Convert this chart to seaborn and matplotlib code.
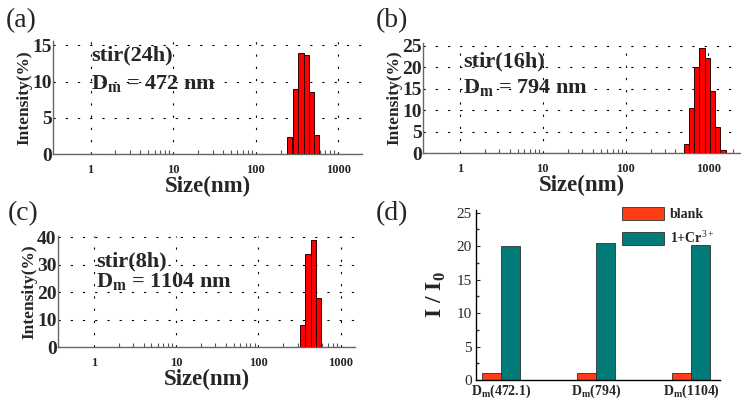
import numpy as np
import pandas as pd
import matplotlib
matplotlib.use("Agg")
import matplotlib.pyplot as plt
import seaborn as sns
from matplotlib.ticker import NullFormatter, FixedLocator

sns.set_theme(style="white")
plt.rcParams['font.family'] = ['Liberation Serif', 'DejaVu Serif']
plt.rcParams['mathtext.fontset'] = 'custom'
plt.rcParams['mathtext.rm'] = 'Liberation Serif'
plt.rcParams['mathtext.bf'] = 'Liberation Serif:bold'

# ---- data ----
# (a) stir 24h
a_centers = [256, 306, 353, 410, 475, 550]
a_heights = [2.4, 9.0, 13.9, 13.6, 8.5, 2.6]
# (b) stir 16h
b_centers = [538, 624, 720, 834, 965, 1115, 1290, 1495]
b_heights = [2.0, 10.5, 20.0, 24.5, 22.0, 14.5, 6.0, 0.8]
# (c) stir 8h
c_centers = [345, 400, 465, 540]
c_heights = [8.0, 34.0, 39.0, 18.0]
# (d)
groups = ["$\\mathbf{D_m}$(472.1)", "$\\mathbf{D_m}$(794)", "$\\mathbf{D_m}$(1104)"]
blank = [1.0, 1.0, 1.0]
cr = [20.0, 20.5, 20.1]

W, H = 741, 403
fig = plt.figure(figsize=(W/100, H/100), dpi=100)

def px_axes(l, r, t, b):
    return fig.add_axes([l/W, (H-b)/H, (r-l)/W, (b-t)/H])

def dls_hist(ax, centers, heights, xlim, ylim, yticks, title, dm, tpos):
    c = np.array(centers, float)
    lc = np.log10(c)
    w = np.median(np.diff(lc))
    left = 10**(lc - w/2)
    right = 10**(lc + w/2)
    ax.set_xscale('log')
    ax.bar(left, heights, width=right-left, align='edge', color='#ff0000',
           edgecolor='#300000', linewidth=0.7, zorder=3)
    ax.set_xlim(*xlim)
    ax.set_ylim(*ylim)
    ax.set_yticks(yticks)
    ax.set_yticklabels([str(v) for v in yticks], fontsize=14, fontweight='bold')
    ax.xaxis.set_major_locator(FixedLocator([1, 10, 100, 1000]))
    ax.set_xticklabels(['1', '10', '100', '1000'], fontsize=9, fontweight='bold')
    minors = [m * 10**d for d in range(0, 4) for m in range(2, 10)]
    minors = [v for v in minors if v < xlim[1]]
    ax.xaxis.set_minor_locator(FixedLocator(minors))
    ax.xaxis.set_minor_formatter(NullFormatter())
    ax.tick_params(axis='x', which='major', direction='in', length=4, width=0.8, pad=7, color='#555555')
    ax.tick_params(axis='x', which='minor', direction='in', length=3, width=0.8, color='#555555', bottom=True)
    ax.tick_params(axis='y', direction='in', length=0, pad=1)
    for s in ['top', 'right']:
        ax.spines[s].set_visible(False)
    for s in ['left', 'bottom']:
        ax.spines[s].set_color('#666666')
        ax.spines[s].set_linewidth(1.0)
    ax.grid(True, which='major', color='black', linestyle=(0, (2, 9)), linewidth=0.8)
    ax.set_xlabel('Size(nm)', fontsize=16.5, fontweight='bold', labelpad=0)
    ax.set_ylabel('Intensity(%)', fontsize=12.5, fontweight='bold', labelpad=0)
    (x0, y1, y2) = tpos
    fig.text(x0/W, 1 - y1/H, title, fontsize=16, fontweight='bold', va='center')
    fig.text(x0/W, 1 - y2/H, dm, fontsize=16, fontweight='bold', va='center')

axa = px_axes(53, 362, 41, 154)
dls_hist(axa, a_centers, a_heights, (0.35, 1940), (0, 15.6), [0, 5, 10, 15],
         'stir(24h)', '$\\mathbf{D_m}$ = 472 nm', (91, 55, 83))
axb = px_axes(423, 740, 43, 153)
dls_hist(axb, b_centers, b_heights, (0.36, 2400), (0, 25.6), [0, 5, 10, 15, 20, 25],
         'stir(16h)', '$\\mathbf{D_m}$ = 794 nm', (463, 61, 88))
axc = px_axes(58, 355, 236, 347)
dls_hist(axc, c_centers, c_heights, (0.364, 1500), (0, 40.5), [0, 10, 20, 30, 40],
         'stir(8h)', '$\\mathbf{D_m}$ = 1104 nm', (96, 261, 281))

# (d)
axd = px_axes(476, 720, 210, 380)
df = pd.DataFrame({
    'group': groups * 2,
    'value': blank + cr,
    'series': ['blank'] * 3 + ['1+Cr$^{3+}$'] * 3,
})
sns.barplot(data=df, x='group', y='value', hue='series', ax=axd,
            palette=['#ff3c14', '#007b78'], width=0.4, dodge=True,
            edgecolor='#303030', linewidth=0.6, saturation=1)
axd.set_xlim(-0.26, 2.3)
axd.set_ylim(0, 25.4)
axd.set_yticks([0, 5, 10, 15, 20, 25])
axd.set_yticklabels(['0', '5', '10', '15', '20', '25'], fontsize=11)
axd.set_xticks([0, 1, 2])
axd.set_xticklabels(groups, fontsize=10, fontweight='bold')
axd.set_xlabel('')
axd.set_ylabel('I / I$_\\mathbf{0}$', fontsize=17, fontweight='bold', labelpad=6)
for s in ['top', 'right']:
    axd.spines[s].set_visible(False)
for s in ['left', 'bottom']:
    axd.spines[s].set_color('black')
    axd.spines[s].set_linewidth(1.0)
axd.tick_params(axis='y', direction='in', length=3, width=0.8, left=True, pad=3)
axd.tick_params(axis='x', direction='in', length=3, width=0.8, bottom=True, pad=2)
axd.yaxis.set_minor_locator(FixedLocator(np.arange(2.5, 25, 5)))
axd.tick_params(axis='y', which='minor', direction='in', length=2, left=True)
leg = axd.legend(loc='upper right', frameon=False, fontsize=10, handlelength=3.0,
                 handleheight=1.1, borderaxespad=0.0, bbox_to_anchor=(1.0, 1.05),
                 labelspacing=0.6, handletextpad=0.4)
for t in leg.get_texts():
    t.set_fontweight('bold')

# panel labels
for lbl, (x, y) in {'(a)': (6, 21), '(b)': (376, 21), '(c)': (8, 214), '(d)': (376, 214)}.items():
    fig.text(x/W, 1 - y/H, lbl, fontsize=20, va='center', ha='left')

fig.savefig('out.png', dpi=100)
